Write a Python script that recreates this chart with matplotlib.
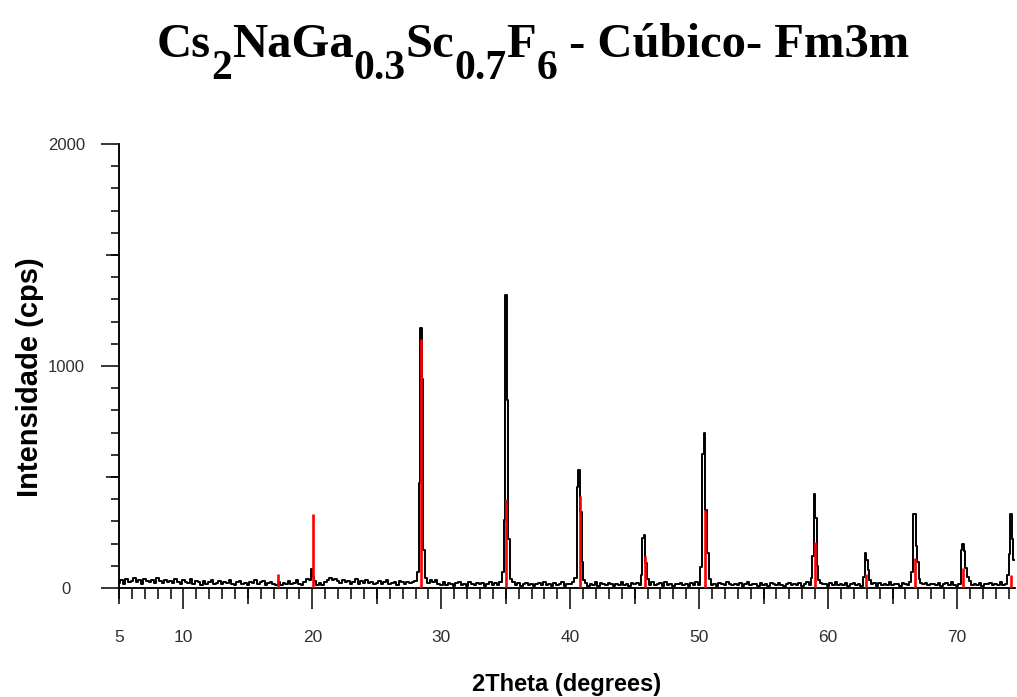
import numpy as np
import matplotlib.pyplot as plt
from matplotlib.ticker import FixedLocator, MultipleLocator

plt.rcParams['font.family'] = ['Liberation Sans', 'DejaVu Sans']

# background counts, one value every 0.2 deg starting at 5 deg
bg_start, bg_step = 5.0, 0.2
background = [
    22, 35, 18, 40, 25, 30, 44, 28, 36, 20, 42, 31, 26, 38, 22, 45, 30, 24, 37, 29,
    33, 21, 40, 26, 18, 35, 28, 22, 39, 17, 30, 25, 14, 32, 20, 27, 36, 19, 24, 30,
    16, 28, 22, 34, 19, 12, 26, 31, 18, 24, 13, 29, 21, 35, 17, 25, 30, 14, 22, 27,
    20, 15, 28, 12, 24, 18, 30, 16, 22, 35, 19, 14, 26, 40, 28, 18, 33, 15, 21, 12,
    26, 38, 44, 35, 42, 30, 24, 36, 28, 33, 20, 26, 39, 18, 30, 24, 35, 22, 28, 17,
    24, 31, 16, 27, 35, 19, 22, 28, 14, 33, 25, 18, 29, 21, 26, 30, 23, 36, 28, 40,
    22, 35, 27, 38, 20, 15, 28, 12, 24, 18, 9, 22, 26, 14, 20, 11, 25, 18, 13, 21,
    16, 24, 10, 19, 27, 13, 22, 15, 28, 12, 34, 20, 18, 26, 14, 21, 11, 19, 24, 13,
    20, 9, 17, 23, 12, 26, 15, 19, 8, 22, 14, 18, 25, 11, 20, 16, 28, 13, 19, 10,
    17, 24, 11, 19, 14, 26, 9, 21, 16, 12, 23, 18, 10, 20, 15, 27, 13, 19, 11, 22,
    16, 24, 12, 19, 8, 22, 15, 26, 13, 18, 21, 11, 25, 14, 17, 9, 20, 16, 23, 12,
    18, 10, 22, 15, 27, 13, 20, 11, 17, 24, 14, 19, 9, 21, 16, 12, 25, 18, 13, 20,
    15, 23, 10, 18, 26, 12, 20, 16, 9, 22, 14, 19, 11, 24, 17, 13, 21, 15, 10, 18,
    24, 12, 19, 14, 22, 9, 17, 25, 13, 20, 15, 11, 23, 16, 18, 10, 21, 14, 26, 12,
    19, 15, 22, 10, 17, 24, 13, 20, 11, 18, 26, 14, 16, 21, 9, 23, 15, 19, 12, 25,
    14, 20, 16, 11, 22, 18, 13, 25, 15, 19, 10, 21, 17, 24, 12, 16, 20, 14, 23, 11,
    18, 22, 13, 26, 15, 10, 19, 21, 14, 17, 24, 12, 20, 15, 23, 11, 18, 16, 22, 13,
    19, 14, 25, 12, 17, 21, 15, 10,
]

# measured peaks: first angle and counts, one value every 0.12 deg
peak_step = 0.12
peak_starts = [19.82, 28.18, 34.78, 40.46, 45.52, 50.19, 58.70, 62.78, 66.50, 70.36, 73.96]
peak_counts = [
    [35, 85, 50],
    [72, 472, 1172, 940, 171, 45],
    [70, 306, 1320, 847, 220, 40],
    [45, 456, 531, 344, 118, 35],
    [60, 225, 239, 114, 40],
    [96, 603, 700, 351, 158, 40],
    [45, 144, 422, 315, 100, 35],
    [50, 159, 126, 81, 35],
    [74, 332, 332, 190, 118, 40],
    [171, 200, 165, 91, 50, 30],
    [60, 153, 332, 219, 126],
]

# reference pattern (stick lines)
ref_theta = [17.34, 20.08, 28.46, 35.05, 40.72, 45.77, 50.45, 58.98, 62.93, 66.76, 70.50, 74.20]
ref_int = [63, 333, 1120, 400, 415, 146, 350, 207, 63, 134, 91, 59]

# build the measured trace
bg_x = bg_start + bg_step * np.arange(len(background))
bg_y = np.array(background, dtype=float)
keep = np.ones(len(bg_x), dtype=bool)
px, py = [], []
for start, counts in zip(peak_starts, peak_counts):
    xs = start + peak_step * np.arange(len(counts))
    keep &= ~((bg_x > xs[0] - 0.1) & (bg_x < xs[-1] + 0.1))
    px.extend(xs)
    py.extend(counts)
tx = np.concatenate([bg_x[keep], px])
ty = np.concatenate([bg_y[keep], py])
order = np.argsort(tx)
tx, ty = tx[order], ty[order]

W, H = 1017, 697
fig = plt.figure(figsize=(W / 100, H / 100), dpi=100)
ax = fig.add_axes([119 / W, 109 / H, 896 / W, 444 / H])

ax.plot(tx, ty, color='black', lw=1.4, drawstyle='steps-mid', zorder=3)
ax.vlines(ref_theta, 0, ref_int, color='#ff0000', lw=1.9, zorder=4)

ax.set_xlim(5, 74.5)
ax.set_ylim(0, 2000)
for s in ['top', 'right']:
    ax.spines[s].set_visible(False)
for s in ['left', 'bottom']:
    ax.spines[s].set_linewidth(1.1)

# x ticks: long every 10, medium every 5, short every 1
ax.xaxis.set_major_locator(FixedLocator([10, 20, 30, 40, 50, 60, 70]))
ax.xaxis.set_minor_locator(MultipleLocator(1))
ax.tick_params(axis='x', which='major', length=15, width=1.1, pad=15.5,
               labelsize=12.5, labelcolor='#303030')
ax.tick_params(axis='x', which='minor', length=8, width=1.1)
sx = ax.secondary_xaxis('bottom')
sx.set_xticks([5, 15, 25, 35, 45, 55, 65], labels=['5', '', '', '', '', '', ''])
sx.tick_params(length=11.5, width=1.1, pad=19, labelsize=12.5, labelcolor='#303030')
sx.spines['bottom'].set_linewidth(1.1)

# y ticks: long every 1000, medium every 500, short every 100
ax.yaxis.set_major_locator(FixedLocator([0, 1000, 2000]))
ax.yaxis.set_minor_locator(MultipleLocator(100))
ax.tick_params(axis='y', which='major', length=13, width=1.1, pad=25,
               labelsize=12, labelcolor='#303030')
ax.tick_params(axis='y', which='minor', length=5.8, width=1.1)
for lab in ax.get_yticklabels():
    lab.set_horizontalalignment('center')
sy = ax.secondary_yaxis('left')
sy.set_yticks([500, 1500], labels=['', ''])
sy.tick_params(length=9.4, width=1.1)
sy.spines['left'].set_linewidth(1.1)

fig.text(30 / W, 1 - 377 / H, 'Intensidade (cps)', rotation=90, ha='center', va='center',
         fontsize=21, fontweight='bold')
fig.text(567 / W, 6 / H, '2Theta (degrees)', ha='center', va='baseline',
         fontsize=17, fontweight='bold')

# title with chemical subscripts, written piece by piece
title_parts = [('Cs', False), ('2', True), ('NaGa', False), ('0.3', True), ('Sc', False),
               ('0.7', True), ('F', False), ('6', True), (' - Cúbico- Fm3m', False)]
base = H - 57
drop = 22
tfont = dict(family='Liberation Serif', fontweight='bold')
prev = None
for text, sub in title_parts:
    size = 30 if sub else 35
    y = base - drop if sub else base
    if prev is None:
        prev = ax.annotate(text, xy=(157, y), xycoords='figure pixels', ha='left',
                           va='baseline', fontsize=size, annotation_clip=False, **tfont)
    else:
        prev = ax.annotate(text, xy=(1, y), xycoords=(prev, 'figure pixels'), ha='left',
                           va='baseline', fontsize=size, annotation_clip=False, **tfont)

fig.savefig('out.png', dpi=100)
